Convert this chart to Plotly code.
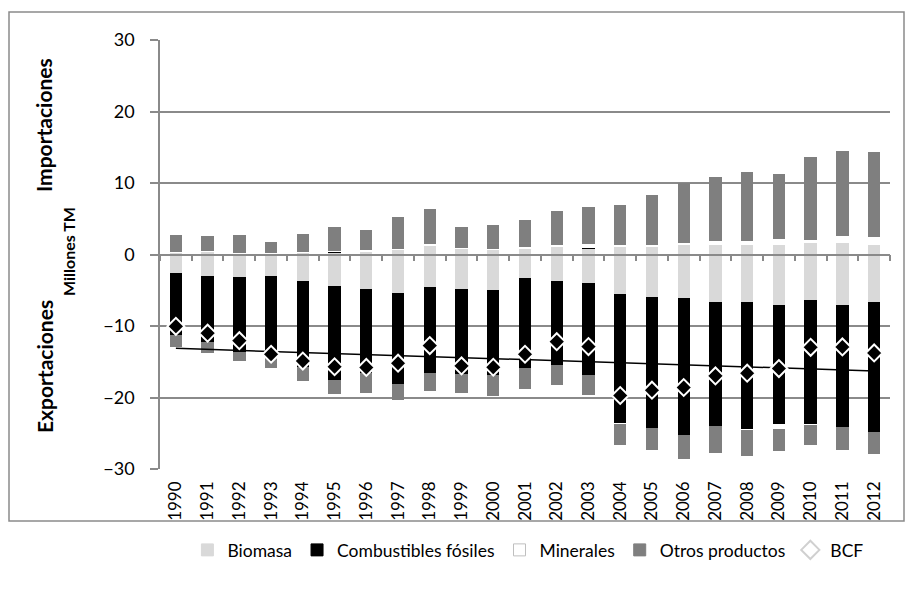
import numpy as np
import plotly.graph_objects as go

# Physical trade flows, millions of tonnes (imports positive, exports negative)
years = list(range(1990, 2013))
year_labels = [str(y) for y in years]

biomasa_imp = [0.23, 0.37, 0.19, 0.14, 0.23, 0.28, 0.47, 0.70, 1.12, 0.90, 0.65, 0.79,
               0.98, 0.79, 1.12, 1.12, 1.26, 1.26, 1.26, 1.26, 1.58, 1.67, 1.26]
fosiles_imp = [0, 0, 0, 0, 0, 0.10, 0, 0, 0, 0, 0, 0,
               0, 0.15, 0, 0, 0, 0, 0, 0, 0, 0, 0]
minerales_imp = [0.14, 0.14, 0.09, 0.09, 0.14, 0.13, 0.13, 0.09, 0.32, 0.03, 0.14, 0.28,
                 0.37, 0.50, 0.23, 0.14, 0.37, 0.65, 0.65, 0.93, 0.47, 0.93, 1.21]
otros_imp = [2.37, 2.14, 2.46, 1.58, 2.47, 3.30, 2.84, 4.41, 4.89, 2.88, 3.30, 3.77,
             4.70, 5.16, 5.53, 7.11, 8.37, 8.88, 9.62, 9.11, 11.62, 11.82, 11.81]

biomasa_exp = [-2.56, -3.07, -3.16, -3.07, -3.67, -4.37, -4.79, -5.35, -4.60, -4.84, -4.93, -3.35,
               -3.67, -4.00, -5.58, -5.95, -6.14, -6.60, -6.60, -7.02, -6.42, -7.02, -6.70]
fosiles_exp = [-8.70, -9.12, -10.42, -11.10, -12.00, -13.16, -11.80, -12.74, -11.95, -11.81, -11.95, -12.51,
               -11.81, -12.88, -18.09, -18.28, -19.12, -17.35, -17.81, -16.65, -17.35, -17.07, -18.09]
minerales_exp = [0, 0, 0, 0, 0, 0, 0, 0, 0, 0, 0, 0,
                 0, 0, -0.10, 0, 0, 0, -0.10, -0.70, -0.14, 0, 0]
otros_exp = [-1.63, -1.63, -1.35, -1.67, -2.09, -2.00, -2.79, -2.19, -2.60, -2.74, -2.88, -2.98,
             -2.74, -2.74, -2.88, -3.16, -3.40, -3.77, -3.67, -3.07, -2.74, -3.30, -3.12]

bcf = [-10.05, -11.00, -12.05, -13.95, -14.90, -15.70, -15.80, -15.20, -12.74, -15.58, -15.77, -13.95,
       -12.19, -12.88, -19.72, -18.98, -18.60, -16.98, -16.60, -15.95, -12.98, -12.93, -13.77]

FONT = "Lato"
GRAY_LINE = "#8a8a8a"
BAR_W = 0.39

# name, imports, exports, fill, legend outline
series = [
    ("Biomasa", biomasa_imp, biomasa_exp, "#d9d9d9", "#d9d9d9"),
    ("Combustibles fósiles", fosiles_imp, fosiles_exp, "#000000", "#000000"),
    ("Minerales", minerales_imp, minerales_exp, "#ffffff", "#bfbfbf"),
    ("Otros productos", otros_imp, otros_exp, "#7f7f7f", "#7f7f7f"),
]

fig = go.Figure()
for name, imp, exp, color, edge in series:
    for vals in (imp, exp):
        fig.add_trace(go.Bar(x=years, y=vals, name=name, legendgroup=name, showlegend=False,
                             marker=dict(color=color, line=dict(width=0)), width=BAR_W))
    # legend swatch
    fig.add_trace(go.Bar(x=[None], y=[None], name=name, legendgroup=name, showlegend=True,
                         marker=dict(color=color, line=dict(width=1, color=edge)), width=BAR_W))

# Linear trend of the physical trade balance
slope, intercept = np.polyfit(years, bcf, 1)
trend = [slope * y + intercept for y in years]
fig.add_trace(go.Scatter(x=[years[0], years[-1]], y=[trend[0], trend[-1]], mode="lines",
                         line=dict(color="black", width=1.5), showlegend=False,
                         hoverinfo="skip", xaxis="x2"))

fig.add_trace(go.Scatter(x=years, y=bcf, mode="markers", name="BCF", showlegend=False,
                         marker=dict(symbol="diamond", size=13, color="black",
                                     line=dict(color="white", width=2)),
                         xaxis="x2"))
# Legend entry for BCF (hollow diamond)
fig.add_trace(go.Scatter(x=[None], y=[None], mode="markers", name="BCF",
                         marker=dict(symbol="diamond", size=14, color="white",
                                     line=dict(color="#d0d0d0", width=2)),
                         xaxis="x2"))

x_range = [years[0] - 0.5, years[-1] + 0.5]
boundaries = [y + 0.5 for y in [years[0] - 1] + years]

fig.update_layout(
    width=905, height=593,
    margin=dict(l=160, r=15, t=40, b=124, autoexpand=False),
    paper_bgcolor="white", plot_bgcolor="white",
    barmode="relative", bargap=0,
    font=dict(family=FONT, size=17, color="black"),
    xaxis=dict(range=x_range, tickmode="array", tickvals=years, ticktext=year_labels,
               tickangle=-90, showgrid=False, showline=False, zeroline=False, ticks="",
               ticklabelstandoff=8, tickfont=dict(size=17)),
    xaxis2=dict(range=x_range, overlaying="x", anchor="free", position=0.5, side="bottom",
                tickmode="array", tickvals=boundaries, ticks="outside", ticklen=6,
                tickcolor=GRAY_LINE, tickwidth=1.5, showticklabels=False, showgrid=False,
                showline=True, linecolor=GRAY_LINE, linewidth=1.5, zeroline=False),
    yaxis=dict(range=[-30, 30], tickmode="array", tickvals=[-30, -20, -10, 0, 10, 20, 30],
               showgrid=True, gridcolor=GRAY_LINE, gridwidth=1.5, zeroline=False,
               showline=True, linecolor=GRAY_LINE, linewidth=1.5, ticks="outside",
               ticklen=8, tickcolor=GRAY_LINE, tickwidth=1.5, ticklabelstandoff=12,
               tickfont=dict(size=18)),
    legend=dict(orientation="h", x=0.504, xanchor="center", y=(469 - 550) / 429, yanchor="middle",
                font=dict(size=17.5), bgcolor="rgba(0,0,0,0)", traceorder="normal"),
    showlegend=True,
)

annotations = [
    dict(text="<b>Importaciones</b>", x=(44 - 160) / 730, y=(469 - 125) / 429, font=dict(size=21)),
    dict(text="<b>Exportaciones</b>", x=(44 - 160) / 730, y=(469 - 366) / 429, font=dict(size=21)),
    dict(text="<b>Millones TM</b>", x=(68 - 160) / 730, y=(469 - 252) / 429, font=dict(size=16)),
]
for a in annotations:
    fig.add_annotation(xref="paper", yref="paper", showarrow=False, textangle=-90,
                       xanchor="center", yanchor="middle", **a)

# Chart-area border
fig.add_shape(type="rect", xref="paper", yref="paper",
              x0=(9 - 160) / 730, x1=(904 - 160) / 730,
              y0=(469 - 521) / 429, y1=(469 - 12) / 429,
              line=dict(color=GRAY_LINE, width=1.5), fillcolor="rgba(0,0,0,0)", layer="below")

fig.write_html("out.html")
